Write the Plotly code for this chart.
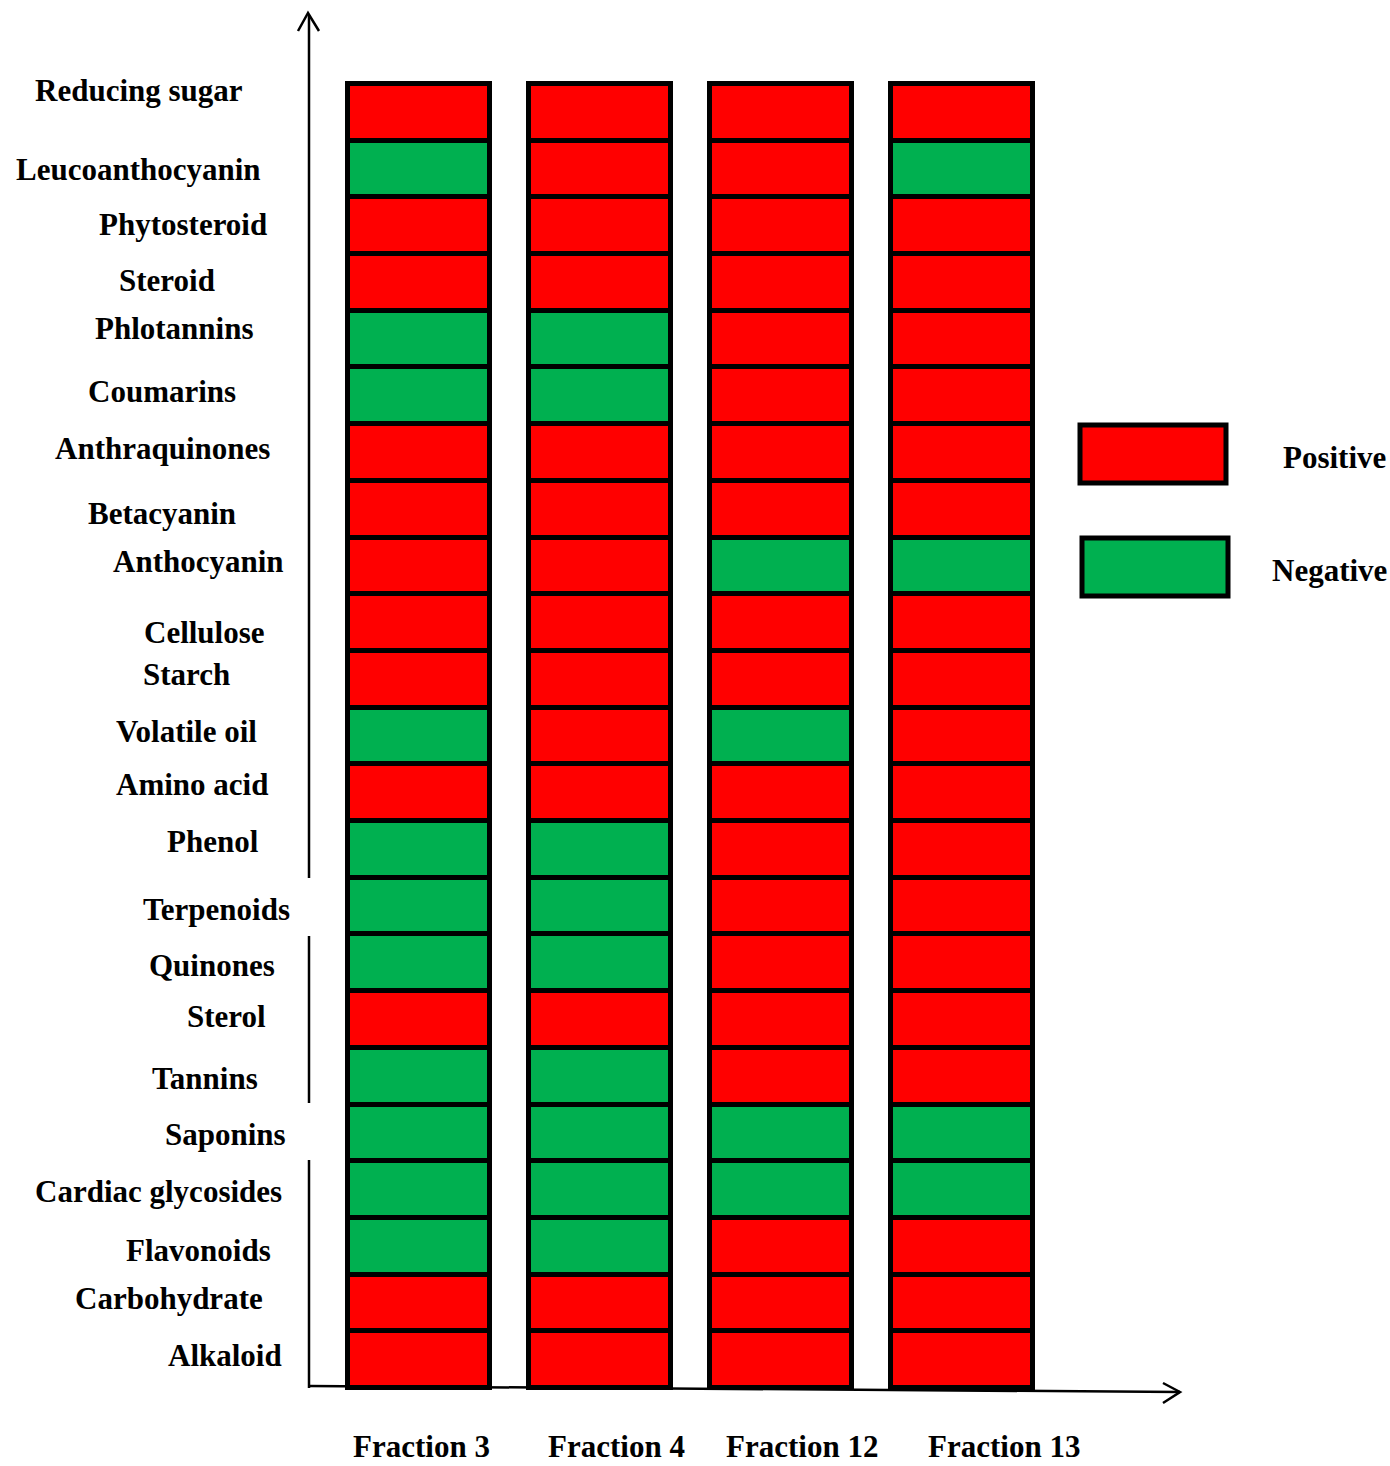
import plotly.graph_objects as go

# ---------------------------------------------------------------- data
tests = ["Reducing sugar", "Leucoanthocyanin", "Phytosteroid", "Steroid", "Phlotannins",
         "Coumarins", "Anthraquinones", "Betacyanin", "Anthocyanin", "Cellulose", "Starch",
         "Volatile oil", "Amino acid", "Phenol", "Terpenoids", "Quinones", "Sterol",
         "Tannins", "Saponins", "Cardiac glycosides", "Flavonoids", "Carbohydrate", "Alkaloid"]

fractions = ["Fraction 3", "Fraction 4", "Fraction 12", "Fraction 13"]

# Screening outcome per test, listed in the same order as `tests` ("+" positive, "-" negative)
fraction_3 = ["+", "-", "+", "+", "-", "-", "+", "+", "+", "+", "+", "-",
              "+", "-", "-", "-", "+", "-", "-", "-", "-", "+", "+"]
fraction_4 = ["+", "+", "+", "+", "-", "-", "+", "+", "+", "+", "+", "+",
              "+", "-", "-", "-", "+", "-", "-", "-", "-", "+", "+"]
fraction_12 = ["+", "+", "+", "+", "+", "+", "+", "+", "-", "+", "+", "-",
               "+", "+", "+", "+", "+", "+", "-", "-", "+", "+", "+"]
fraction_13 = ["+", "-", "+", "+", "+", "+", "+", "+", "-", "+", "+", "+",
               "+", "+", "+", "+", "+", "+", "-", "-", "+", "+", "+"]

legend_labels = ["Positive", "Negative"]

# ---------------------------------------------------------------- styling
W, H = 1390, 1466
RED = "#FF0000"
GREEN = "#00B050"
COLOR = {"+": RED, "-": GREEN}
FONT = "Liberation Serif, Times New Roman, serif"
FSIZE = 31

# hand-placed label layout (right edge in px, vertical nudge in px)
label_right = [245, 263, 269, 217, 256, 238, 272, 238, 286, 267, 232, 259,
               270, 261, 292, 277, 268, 260, 288, 284, 273, 265, 284]
label_nudge = [22, -1, 1, 2, 11, 4, 4, -4, 4, -10, 5, 4,
               8, 8, -3, -3, 3, -2, -2, -2, -4, 4, 4]
fraction_label_shift = [2, 16, 21, 42]


def px(x):
    return x / W


def py(y):
    return 1 - y / H


results = [fraction_3, fraction_4, fraction_12, fraction_13]

fig = go.Figure()

# one stacked segment per test; bottom of the stack is the last test
for i in reversed(range(len(tests))):
    fig.add_trace(go.Bar(
        x=fractions,
        y=[1] * len(fractions),
        name=tests[i],
        width=0.78,
        marker=dict(color=[COLOR[r[i]] for r in results],
                    line=dict(color="black", width=5)),
        showlegend=False,
        hoverinfo="x+name",
    ))

# axis geometry (pixel space of the page)
x_left, x_right = 309, 1180
y_bottom, y_top = 1388, 15
unit_px = 56.7
col_px = 181
x0_center = 419

x_range = [(x_left - x0_center) / col_px, (x_right - x0_center) / col_px]
y_low = -0.2
y_range = [y_low, (y_bottom - y_top) / unit_px]

fig.update_layout(
    width=W, height=H,
    margin=dict(l=0, r=0, t=0, b=0, autoexpand=False),
    paper_bgcolor="white", plot_bgcolor="white",
    barmode="stack",
    bargap=0,
    xaxis=dict(domain=[px(x_left), px(x_right)], range=x_range, visible=False,
               type="category"),
    yaxis=dict(domain=[py(y_bottom - y_low * unit_px), py(y_top)], range=y_range,
               visible=False),
    font=dict(family=FONT, size=FSIZE, color="black"),
)

shapes = []
line = dict(color="black", width=2.5)

# vertical axis, broken where the Terpenoids and Saponins labels sit over it
for a, b in [(y_top, 878), (936, 1103), (1160, y_bottom)]:
    shapes.append(dict(type="line", xref="paper", yref="paper", layer="below",
                       x0=px(x_left), x1=px(x_left), y0=py(a), y1=py(b), line=line))
# open arrowhead on the vertical axis
shapes.append(dict(type="path", xref="paper", yref="paper", layer="below", line=line,
                   path=f"M {px(298)} {py(31)} L {px(308)} {py(13)} L {px(319)} {py(31)}"))

# horizontal axis with open arrowhead
shapes.append(dict(type="line", xref="paper", yref="paper", layer="below",
                   x0=px(x_left), x1=px(x_right), y0=py(1386), y1=py(1392), line=line))
shapes.append(dict(type="path", xref="paper", yref="paper", layer="below", line=line,
                   path=f"M {px(1163)} {py(1383)} L {px(1180)} {py(1392)} L {px(1163)} {py(1403)}"))

# legend swatches
for (x0, y0, x1, y1), c in zip([(1080, 425, 1226, 483), (1082, 538, 1228, 596)], [RED, GREEN]):
    shapes.append(dict(type="rect", xref="paper", yref="paper",
                       x0=px(x0), x1=px(x1), y0=py(y0), y1=py(y1),
                       fillcolor=c, line=dict(color="black", width=5)))

annotations = []
# test labels on the left, aligned with their row
for i, t in enumerate(tests):
    annotations.append(dict(
        text=t, xref="paper", yref="y", x=px(label_right[i]), y=len(tests) - i - 0.5,
        xanchor="right", yanchor="middle", yshift=label_nudge[i], showarrow=False,
        font=dict(family=FONT, size=FSIZE, color="black", weight="bold"),
    ))

# fraction names under the columns
for j, f in enumerate(fractions):
    annotations.append(dict(
        text=f, xref="x", yref="paper", x=f, y=py(1465),
        xanchor="center", yanchor="bottom", xshift=fraction_label_shift[j],
        showarrow=False, borderpad=0,
        font=dict(family=FONT, size=FSIZE, color="black", weight="bold"),
    ))

# legend labels
for lbl, (cx, cy) in zip(legend_labels, [(1334, 458), (1329, 571)]):
    annotations.append(dict(
        text=lbl, xref="paper", yref="paper", x=px(cx), y=py(cy),
        xanchor="center", yanchor="middle", showarrow=False,
        font=dict(family=FONT, size=FSIZE, color="black", weight="bold"),
    ))

fig.update_layout(shapes=shapes, annotations=annotations)

fig.write_html("out.html")
